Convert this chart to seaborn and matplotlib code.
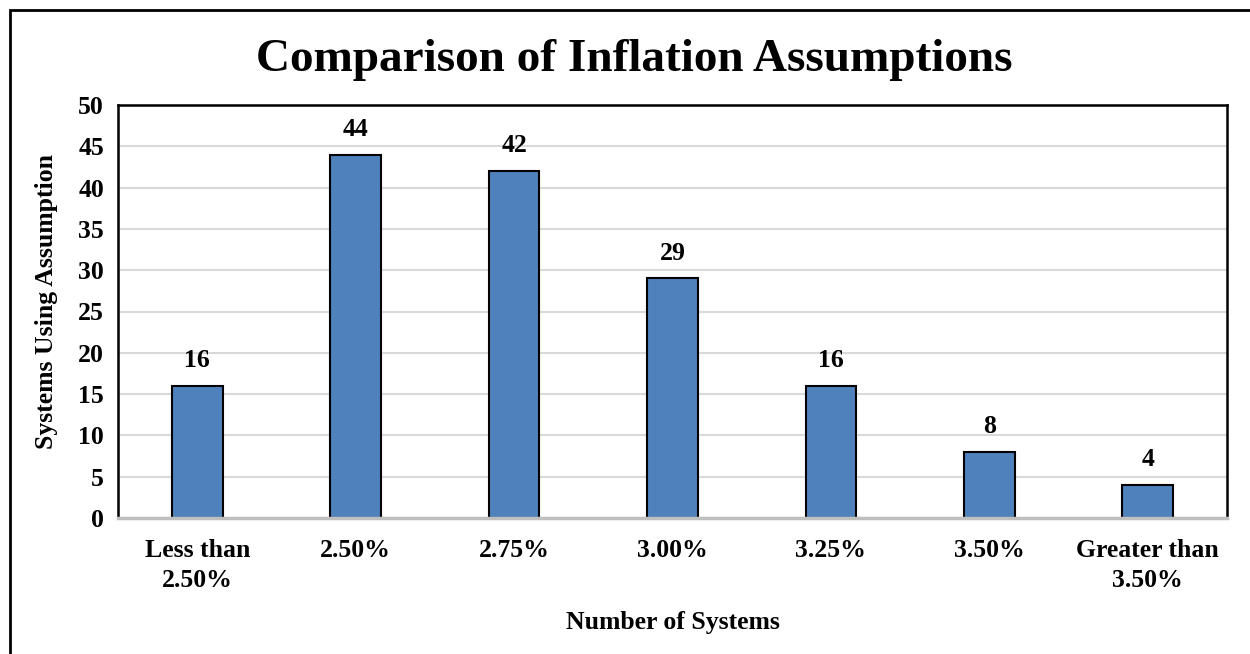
import matplotlib
matplotlib.use("Agg")
import matplotlib.pyplot as plt
import seaborn as sns
import pandas as pd
from matplotlib.patches import Rectangle

categories = ["Less than\n2.50%", "2.50%", "2.75%", "3.00%", "3.25%", "3.50%", "Greater than\n3.50%"]
systems = [16, 44, 42, 29, 16, 8, 4]
y_ticks = [0, 5, 10, 15, 20, 25, 30, 35, 40, 45, 50]

sns.set_theme(style="white")
plt.rcParams["font.family"] = ["Liberation Serif", "DejaVu Serif"]
plt.rcParams["font.weight"] = "bold"
plt.rcParams["text.color"] = "black"
plt.rcParams["axes.labelcolor"] = "black"
plt.rcParams["xtick.color"] = "black"
plt.rcParams["ytick.color"] = "black"

df = pd.DataFrame({"category": categories, "systems": systems})

W, H = 1250, 654
fig = plt.figure(figsize=(W / 100, H / 100), dpi=100)
ax = fig.add_axes([118 / W, 1 - 518 / H, (1227 - 118) / W, (518 - 105) / H])

sns.barplot(data=df, x="category", y="systems", color="#4F81BD", width=0.32,
            edgecolor="black", linewidth=1.5, saturation=1, ax=ax)

fs = 18.5
ax.set_ylim(0, 50)
ax.set_xlim(-0.5, len(categories) - 0.5)
ax.set_yticks(y_ticks)
ax.set_yticklabels([str(t) for t in y_ticks], fontsize=fs, fontweight="bold")
ax.set_xticks(range(len(categories)))
ax.set_xticklabels(categories, fontsize=fs, fontweight="bold", linespacing=1.4)
ax.tick_params(axis="y", length=0, pad=10)
ax.tick_params(axis="x", length=0, pad=15)
ax.grid(axis="y", color="#D9D9D9", linewidth=1.5)
ax.set_axisbelow(True)

for side in ["left", "top", "right"]:
    ax.spines[side].set_color("black")
    ax.spines[side].set_linewidth(1.8)
ax.spines["bottom"].set_color("#BFBFBF")
ax.spines["bottom"].set_linewidth(2.5)

for i, v in enumerate(systems):
    ax.annotate(str(v), (i, v), xytext=(0, 10), textcoords="offset points",
                ha="center", va="bottom", fontsize=fs, fontweight="bold")

ax.set_xlabel("Number of Systems", fontsize=fs, fontweight="bold", labelpad=14)
ax.set_ylabel("Systems Using Assumption", fontsize=fs, fontweight="bold")
ax.yaxis.set_label_coords(-0.054, 0.525)

fig.text(634 / W, 1 - 60 / H, "Comparison of Inflation Assumptions",
         ha="center", va="center", fontsize=34, fontweight="bold")

# outer chart frame
fig.patches.append(Rectangle((10 / W, -0.1), 1.2, 1 - 10 / H + 0.1,
                             transform=fig.transFigure, fill=False,
                             edgecolor="black", linewidth=2))

fig.savefig("out.png", dpi=100)
